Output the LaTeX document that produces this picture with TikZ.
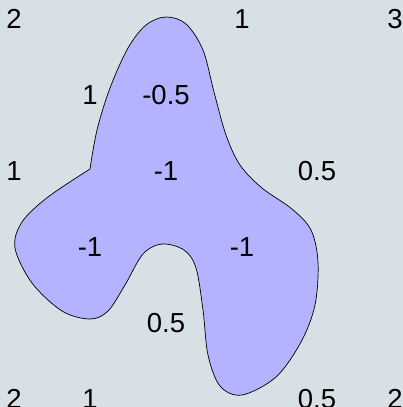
\documentclass[tikz,border=0pt]{standalone}
\usepackage{fontspec}
\setmainfont{Liberation Sans}
\definecolor{bg}{RGB}{215,224,228}
\definecolor{blob}{RGB}{179,179,255}
\begin{document}
\begin{tikzpicture}[x=1pt,y=-1pt,
  lbl/.style={inner sep=0pt,font=\fontsize{27.5}{27.5}\selectfont}]
\fill[bg] (0,0) rectangle (403,407);
\useasboundingbox (0,0) rectangle (403,407);
\filldraw[fill=blob,draw=black,line width=0.7pt]
  plot[smooth,tension=0.55] coordinates {
  (90,169) (97,130) (110,88) (128,48) (146,25) (166,17) (186,24) (203,50)
  (214,92) (226,135) (240,165) (262,188) (292,209) (311,230) (318,262)
  (315,305) (301,342) (276,377) (242,395) (220,386) (208,355) (203,310)
  (196,268) (184,250) (162,244) (143,254) (125,285) (108,311) (90,319)
  (62,311) (32,283) (15,248) (22,222) (48,197) (90,169)} -- cycle;
\node[lbl] (a00) at (14,19) {2};
\node[lbl] (a30) at (242,19) {1};
\node[lbl] (a50) at (395,19) {3};
\node[lbl] (a11) at (90,95) {1};
\node[lbl] (a21) at (166,95) {-0.5};
\node[lbl] (a02) at (14,171) {1};
\node[lbl] (a22) at (166,171) {-1};
\node[lbl] (a42) at (317,171) {0.5};
\node[lbl] (a13) at (90,247) {-1};
\node[lbl] (a33) at (242,247) {-1};
\node[lbl] (a24) at (166,323) {0.5};
\node[lbl] (a05) at (14,399) {2};
\node[lbl] (a15) at (90,399) {1};
\node[lbl] (a45) at (317,399) {0.5};
\node[lbl] (a55) at (395,399) {2};
\end{tikzpicture}
\end{document}
